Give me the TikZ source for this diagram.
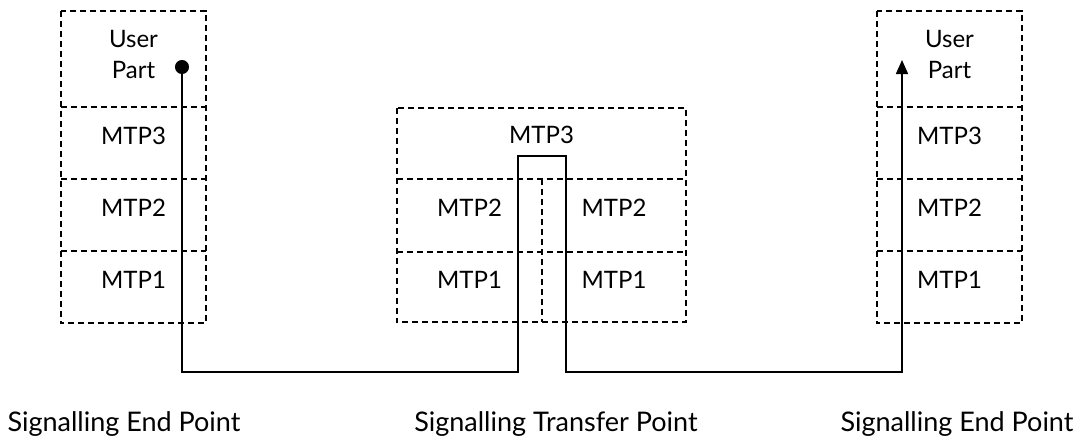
\documentclass[tikz,border=0pt]{standalone}
\usepackage{fontspec}
\setmainfont{Lato}
\usetikzlibrary{arrows.meta}
\begin{document}
\begin{tikzpicture}[x=1pt,y=-1pt,
  cell/.style={inner sep=0pt},
  txt/.style={inner sep=0pt, font=\fontsize{24}{31}\selectfont, align=center, yshift=7.5pt},
  border/.style={line width=1.6pt, dash pattern=on 6pt off 4pt},
  link/.style={line width=1.6pt},
  caption/.style={font=\fontsize{27}{30}\selectfont, inner sep=0pt, anchor=base}]
\useasboundingbox (0,0) rectangle (1090,440);
% left end point
\node[cell, minimum width=145pt, minimum height=96pt] (lu) at (133.5,59) {};
\node[cell, minimum width=145pt, minimum height=72pt] (l3) at (133.5,143) {};
\node[cell, minimum width=145pt, minimum height=72pt] (l2) at (133.5,215) {};
\node[cell, minimum width=145pt, minimum height=72pt] (l1) at (133.5,287) {};
% transfer point
\node[cell, minimum width=289pt, minimum height=71pt] (m3) at (541.5,143.5) {};
\node[cell, minimum width=145pt, minimum height=73pt] (m2l) at (469.5,215.5) {};
\node[cell, minimum width=144pt, minimum height=73pt] (m2r) at (614,215.5) {};
\node[cell, minimum width=145pt, minimum height=70pt] (m1l) at (469.5,287) {};
\node[cell, minimum width=144pt, minimum height=70pt] (m1r) at (614,287) {};
% right end point
\node[cell, minimum width=145pt, minimum height=96pt] (ru) at (949.5,59) {};
\node[cell, minimum width=145pt, minimum height=72pt] (r3) at (949.5,143) {};
\node[cell, minimum width=145pt, minimum height=72pt] (r2) at (949.5,215) {};
\node[cell, minimum width=145pt, minimum height=72pt] (r1) at (949.5,287) {};
% borders
\draw[border] (lu.north west) rectangle (l1.south east);
\draw[border] (l3.north west) -- (l3.north east);
\draw[border] (l2.north west) -- (l2.north east);
\draw[border] (l1.north west) -- (l1.north east);
\draw[border] (m3.north west) rectangle (m1r.south east);
\draw[border] (m2l.north west) -- (m2r.north east);
\draw[border] (m1l.north west) -- (m1r.north east);
\draw[border] (m2l.north east) -- (m1l.south east);
\draw[border] (ru.north west) rectangle (r1.south east);
\draw[border] (r3.north west) -- (r3.north east);
\draw[border] (r2.north west) -- (r2.north east);
\draw[border] (r1.north west) -- (r1.north east);
% texts
\node[txt, yshift=-3pt] (tlu) at (lu) {User\\Part};
\node[txt] (tl3) at (l3) {MTP3};
\node[txt] (tl2) at (l2) {MTP2};
\node[txt] (tl1) at (l1) {MTP1};
\node[txt, yshift=1pt] (tm3) at (m3) {MTP3};
\node[txt] (tm2l) at (m2l) {MTP2};
\node[txt] (tm2r) at (m2r) {MTP2};
\node[txt] (tm1l) at (m1l) {MTP1};
\node[txt] (tm1r) at (m1r) {MTP1};
\node[txt, yshift=-3pt] (tru) at (ru) {User\\Part};
\node[txt] (tr3) at (r3) {MTP3};
\node[txt] (tr2) at (r2) {MTP2};
\node[txt] (tr1) at (r1) {MTP1};
% captions
\node[caption] (c1) at (124,431) {Signalling End Point};
\node[caption] (c2) at (556,431) {Signalling Transfer Point};
\node[caption] (c3) at (957,431) {Signalling End Point};
% connector points
\coordinate (src) at (182,60);
\coordinate (dst) at (902,60);
\coordinate (b1) at (182,372);
\coordinate (b2) at (518,372);
\coordinate (t1) at (518,156);
\coordinate (t2) at (566,156);
\coordinate (b3) at (566,372);
\coordinate (b4) at (902,372);
\draw[link, {Circle[length=14pt,width=14pt]}-{Triangle[length=14pt,width=12pt]}]
  (src) -- (b1) -- (b2) -- (t1) -- (t2) -- (b3) -- (b4) -- (dst);
\end{tikzpicture}
\end{document}
